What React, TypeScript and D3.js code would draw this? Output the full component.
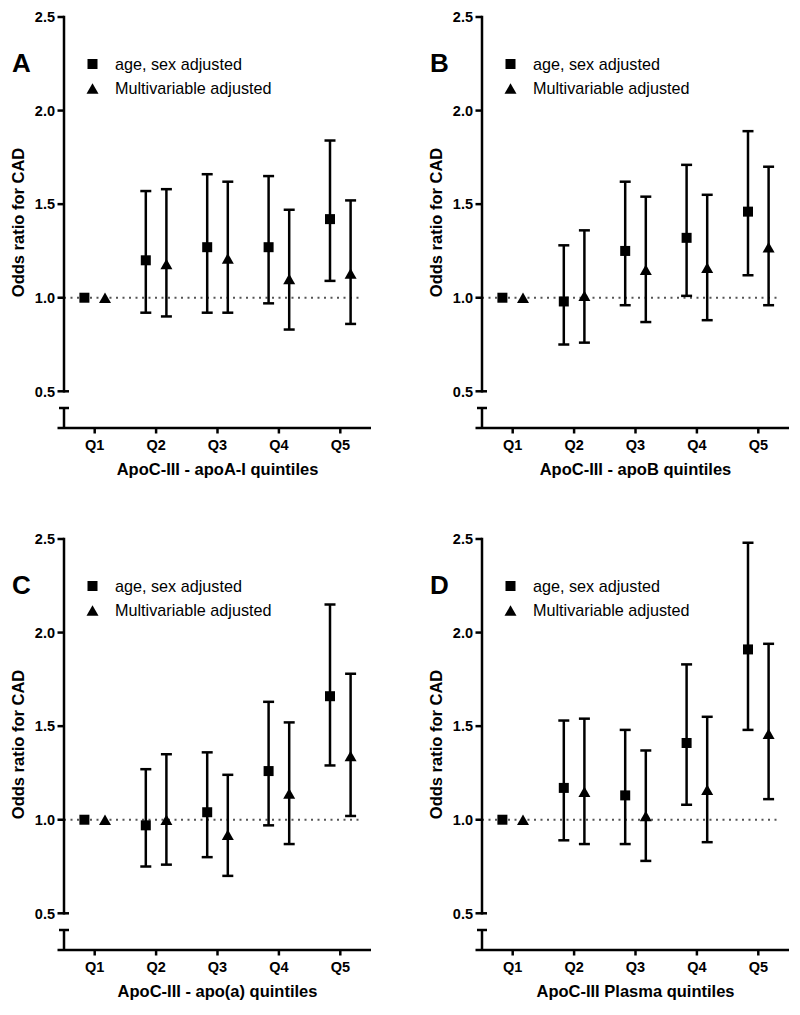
import React from "react";
import * as d3 from "d3";

const quintiles = ["Q1", "Q2", "Q3", "Q4", "Q5"];
const yTicks = [0.5, 1.0, 1.5, 2.0, 2.5];
const legendLabels = ["age, sex adjusted", "Multivariable adjusted"];
const yTitle = "Odds ratio for CAD";

// Panel A
const aSexOR = [1.0, 1.2, 1.27, 1.27, 1.42];
const aSexLo = [null, 0.92, 0.92, 0.97, 1.09];
const aSexHi = [null, 1.57, 1.66, 1.65, 1.84];
const aMultiOR = [1.0, 1.18, 1.21, 1.1, 1.13];
const aMultiLo = [null, 0.9, 0.92, 0.83, 0.86];
const aMultiHi = [null, 1.58, 1.62, 1.47, 1.52];

// Panel B
const bSexOR = [1.0, 0.98, 1.25, 1.32, 1.46];
const bSexLo = [null, 0.75, 0.96, 1.01, 1.12];
const bSexHi = [null, 1.28, 1.62, 1.71, 1.89];
const bMultiOR = [1.0, 1.01, 1.15, 1.16, 1.27];
const bMultiLo = [null, 0.76, 0.87, 0.88, 0.96];
const bMultiHi = [null, 1.36, 1.54, 1.55, 1.7];

// Panel C
const cSexOR = [1.0, 0.97, 1.04, 1.26, 1.66];
const cSexLo = [null, 0.75, 0.8, 0.97, 1.29];
const cSexHi = [null, 1.27, 1.36, 1.63, 2.15];
const cMultiOR = [1.0, 1.0, 0.92, 1.14, 1.34];
const cMultiLo = [null, 0.76, 0.7, 0.87, 1.02];
const cMultiHi = [null, 1.35, 1.24, 1.52, 1.78];

// Panel D
const dSexOR = [1.0, 1.17, 1.13, 1.41, 1.91];
const dSexLo = [null, 0.89, 0.87, 1.08, 1.48];
const dSexHi = [null, 1.53, 1.48, 1.83, 2.48];
const dMultiOR = [1.0, 1.15, 1.02, 1.16, 1.46];
const dMultiLo = [null, 0.87, 0.78, 0.88, 1.11];
const dMultiHi = [null, 1.54, 1.37, 1.55, 1.94];

const FONT = "'Liberation Sans', Arial, Helvetica, sans-serif";

type Series = { or: number[]; lo: (number | null)[]; hi: (number | null)[] };

function triPoints(cx: number, cy: number, side: number, h: number) {
  return `${cx - side / 2},${cy + h / 2} ${cx + side / 2},${cy + h / 2} ${cx},${cy - h / 2}`;
}

function Panel(props: {
  ox: number;
  oy: number;
  letter: string;
  title: string;
  sex: Series;
  multi: Series;
}) {
  const { ox, oy, letter, title, sex, multi } = props;
  const axisX = ox + 64;
  const xEnd = ox + 371;
  const x = d3.scalePoint<string>().domain(quintiles).range([axisX, xEnd]).padding(0.5);
  const y = d3.scaleLinear().domain([0.5, 2.5]).range([oy + 391.3, oy + 17]);
  const xAxisY = oy + 428;
  const breakTop = oy + 408;
  const off = 10.3;
  const cap = 5.5;
  const sw = 2.5;
  const sq = 10;

  const errBars = (s: Series, dx: number, key: string) =>
    quintiles.map((q, i) => {
      const lo = s.lo[i];
      const hi = s.hi[i];
      if (lo == null || hi == null) return null;
      const cx = (x(q) as number) + dx;
      return (
        <g key={key + q} stroke="#000" strokeWidth={sw}>
          <line x1={cx} x2={cx} y1={y(lo)} y2={y(hi)} />
          <line x1={cx - cap} x2={cx + cap} y1={y(lo)} y2={y(lo)} />
          <line x1={cx - cap} x2={cx + cap} y1={y(hi)} y2={y(hi)} />
        </g>
      );
    });

  const center = (oy + 17 + xAxisY) / 2;

  return (
    <g fontFamily={FONT} fill="#000">
      <text x={ox + 12} y={oy + 72} fontSize={26} fontWeight="bold">
        {letter}
      </text>
      {/* legend */}
      <rect x={axisX + 28.5 - sq / 2} y={oy + 64 - sq / 2} width={sq} height={sq} fill="#000" />
      <text x={axisX + 51} y={oy + 69.5} fontSize={16.2}>
        {legendLabels[0]}
      </text>
      <polygon points={triPoints(axisX + 28.5, oy + 88.5, 12, 10.5)} fill="#000" />
      <text x={axisX + 51} y={oy + 93.5} fontSize={16.2}>
        {legendLabels[1]}
      </text>

      {/* reference line */}
      <line
        x1={axisX}
        x2={(x("Q5") as number) + 20}
        y1={y(1)}
        y2={y(1)}
        stroke="#555"
        strokeWidth={2}
        strokeDasharray="2 4.5"
      />

      {/* axes */}
      <g stroke="#000" strokeWidth={sw}>
        <line x1={axisX} x2={axisX} y1={y(2.5) - 1.2} y2={y(0.5) + 1.2} />
        {yTicks.map((t) => (
          <line key={"yt" + t} x1={axisX - 6.5} x2={axisX} y1={y(t)} y2={y(t)} />
        ))}
        <line x1={axisX} x2={axisX + 5} y1={y(0.5)} y2={y(0.5)} />
        <line x1={axisX} x2={axisX} y1={breakTop} y2={xAxisY} />
        <line x1={axisX - 5} x2={axisX + 5} y1={breakTop} y2={breakTop} />
        <line x1={axisX - 6.5} x2={xEnd} y1={xAxisY} y2={xAxisY} />
        {quintiles.map((q) => (
          <line key={"xt" + q} x1={x(q)} x2={x(q)} y1={xAxisY} y2={xAxisY + 5.5} />
        ))}
      </g>
      {yTicks.map((t) => (
        <text
          key={"yl" + t}
          x={axisX - 9}
          y={y(t)}
          dy="0.36em"
          textAnchor="end"
          fontSize={14.5}
          fontWeight="bold"
        >
          {t.toFixed(1)}
        </text>
      ))}
      {quintiles.map((q) => (
        <text key={"xl" + q} x={x(q)} y={xAxisY + 21.5} textAnchor="middle" fontSize={14.5} fontWeight="bold">
          {q}
        </text>
      ))}
      <text x={(axisX + xEnd) / 2} y={xAxisY + 47} textAnchor="middle" fontSize={16.5} fontWeight="bold">
        {title}
      </text>
      <text
        transform={`translate(${ox + 24},${center}) rotate(-90)`}
        textAnchor="middle"
        fontSize={16.5}
        fontWeight="bold"
      >
        {yTitle}
      </text>

      {/* error bars */}
      {errBars(sex, -off, "s")}
      {errBars(multi, off, "m")}
      {/* markers */}
      {quintiles.map((q, i) => (
        <rect
          key={"sq" + q}
          x={(x(q) as number) - off - sq / 2}
          y={y(sex.or[i]) - sq / 2}
          width={sq}
          height={sq}
          fill="#000"
        />
      ))}
      {quintiles.map((q, i) => (
        <polygon key={"tr" + q} points={triPoints((x(q) as number) + off, y(multi.or[i]), 12, 10.5)} fill="#000" />
      ))}
    </g>
  );
}

export default function App() {
  return (
    <svg
      width={800}
      height={1015}
      style={{ position: "absolute", left: 0, top: 0, background: "#fff" }}
    >
      <rect width={800} height={1015} fill="#fff" />
      <Panel
        ox={0}
        oy={0}
        letter="A"
        title="ApoC-III - apoA-I quintiles"
        sex={{ or: aSexOR, lo: aSexLo, hi: aSexHi }}
        multi={{ or: aMultiOR, lo: aMultiLo, hi: aMultiHi }}
      />
      <Panel
        ox={418}
        oy={0}
        letter="B"
        title="ApoC-III - apoB quintiles"
        sex={{ or: bSexOR, lo: bSexLo, hi: bSexHi }}
        multi={{ or: bMultiOR, lo: bMultiLo, hi: bMultiHi }}
      />
      <Panel
        ox={0}
        oy={522}
        letter="C"
        title="ApoC-III - apo(a) quintiles"
        sex={{ or: cSexOR, lo: cSexLo, hi: cSexHi }}
        multi={{ or: cMultiOR, lo: cMultiLo, hi: cMultiHi }}
      />
      <Panel
        ox={418}
        oy={522}
        letter="D"
        title="ApoC-III Plasma quintiles"
        sex={{ or: dSexOR, lo: dSexLo, hi: dSexHi }}
        multi={{ or: dMultiOR, lo: dMultiLo, hi: dMultiHi }}
      />
    </svg>
  );
}
